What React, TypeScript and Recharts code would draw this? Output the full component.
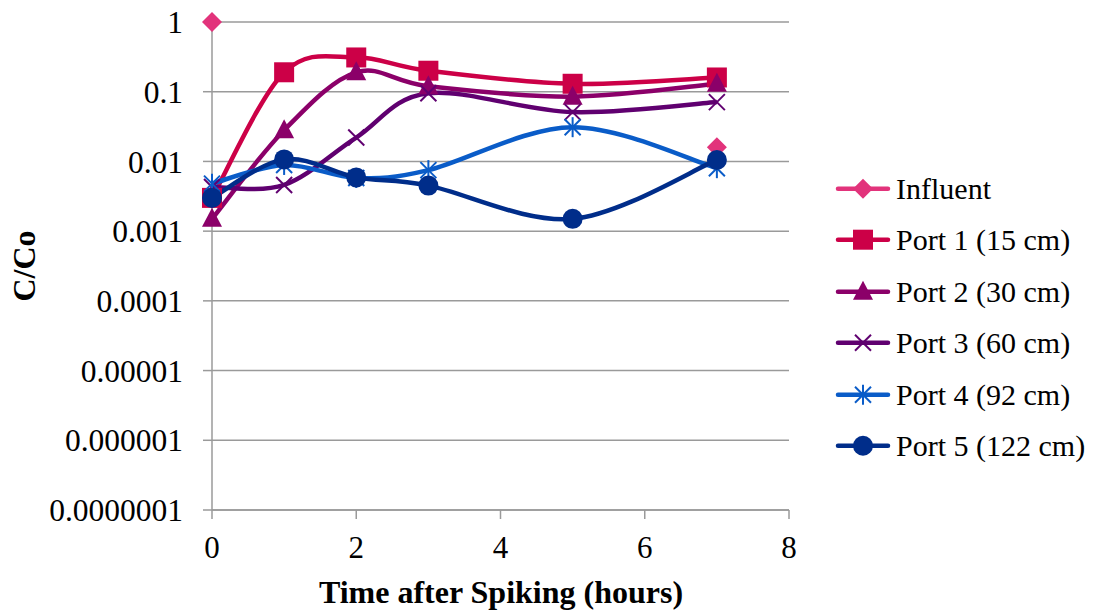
import { LineChart, Line, XAxis, YAxis, CartesianGrid } from "recharts";

const HOURS = [0, 1, 2, 3, 5, 7];
const INFLUENT = [1, null, null, null, null, 0.016];
const PORT1 = [0.003, 0.19, 0.31, 0.2, 0.13, 0.16];
const PORT2 = [0.0015, 0.028, 0.19, 0.12, 0.085, 0.13];
const PORT3 = [0.0043, 0.0046, 0.022, 0.095, 0.051, 0.071];
const PORT4 = [0.0048, 0.0089, 0.0058, 0.0075, 0.031, 0.008];
const PORT5 = [0.003, 0.0107, 0.0059, 0.0045, 0.0015, 0.0105];

const X_TICKS = [0, 2, 4, 6, 8];
const Y_TICKS = [1e-7, 1e-6, 1e-5, 1e-4, 1e-3, 1e-2, 1e-1, 1];

type Shape = "diamond" | "square" | "triangle" | "x" | "star" | "circle";

const SERIES: { key: string; name: string; color: string; shape: Shape; values: (number | null)[] }[] = [
  { key: "influent", name: "Influent", color: "#E2337B", shape: "diamond", values: INFLUENT },
  { key: "p1", name: "Port 1 (15 cm)", color: "#CC0047", shape: "square", values: PORT1 },
  { key: "p2", name: "Port 2 (30 cm)", color: "#8B0069", shape: "triangle", values: PORT2 },
  { key: "p3", name: "Port 3 (60 cm)", color: "#600070", shape: "x", values: PORT3 },
  { key: "p4", name: "Port 4 (92 cm)", color: "#0A5CC8", shape: "star", values: PORT4 },
  { key: "p5", name: "Port 5 (122 cm)", color: "#002D8A", shape: "circle", values: PORT5 },
];

const data = HOURS.map((h, i) => {
  const row: Record<string, number | null> = { hour: h };
  SERIES.forEach((s) => (row[s.key] = s.values[i]));
  return row;
});

const FONT = "'Liberation Serif', 'Times New Roman', serif";

// Excel-like smoothed line (Catmull-Rom through the points)
// eslint-disable-next-line @typescript-eslint/no-explicit-any
function excelCurve(context: any) {
  let pts: number[][] = [];
  return {
    areaStart() {},
    areaEnd() {},
    lineStart() {
      pts = [];
    },
    point(x: number, y: number) {
      pts.push([+x, +y]);
    },
    lineEnd() {
      const n = pts.length;
      if (!n) return;
      context.moveTo(pts[0][0], pts[0][1]);
      for (let i = 0; i < n - 1; i++) {
        const p0 = pts[Math.max(i - 1, 0)];
        const p1 = pts[i];
        const p2 = pts[i + 1];
        const p3 = pts[Math.min(i + 2, n - 1)];
        context.bezierCurveTo(
          p1[0] + (p2[0] - p0[0]) / 6,
          p1[1] + (p2[1] - p0[1]) / 6,
          p2[0] - (p3[0] - p1[0]) / 6,
          p2[1] - (p3[1] - p1[1]) / 6,
          p2[0],
          p2[1]
        );
      }
    },
  };
}

function Marker({ shape, color, cx, cy }: { shape: Shape; color: string; cx: number; cy: number }) {
  switch (shape) {
    case "diamond":
      return <polygon points={`${cx},${cy - 10} ${cx + 10},${cy} ${cx},${cy + 10} ${cx - 10},${cy}`} fill={color} />;
    case "square":
      return <rect x={cx - 10} y={cy - 10} width={20} height={20} fill={color} />;
    case "triangle":
      return <polygon points={`${cx},${cy - 11} ${cx + 10},${cy + 8} ${cx - 10},${cy + 8}`} fill={color} />;
    case "x":
      return (
        <g stroke={color} strokeWidth={2}>
          <line x1={cx - 8} y1={cy - 8} x2={cx + 8} y2={cy + 8} />
          <line x1={cx - 8} y1={cy + 8} x2={cx + 8} y2={cy - 8} />
        </g>
      );
    case "star":
      return (
        <g stroke={color} strokeWidth={2}>
          <line x1={cx - 8} y1={cy - 8} x2={cx + 8} y2={cy + 8} />
          <line x1={cx - 8} y1={cy + 8} x2={cx + 8} y2={cy - 8} />
          <line x1={cx} y1={cy - 10} x2={cx} y2={cy + 10} />
        </g>
      );
    default:
      return <circle cx={cx} cy={cy} r={10} fill={color} />;
  }
}

function YTitle() {
  return (
    <text
      transform="translate(24,266) rotate(-90)"
      textAnchor="middle"
      dominantBaseline="central"
      style={{ fontFamily: FONT, fontSize: 32, fontWeight: 700, fill: "#000" }}
    >
      C/Co
    </text>
  );
}

function XTitle() {
  return (
    <text
      x={501}
      y={603}
      textAnchor="middle"
      style={{ fontFamily: FONT, fontSize: 32, fontWeight: 700, fill: "#000" }}
    >
      Time after Spiking (hours)
    </text>
  );
}

function LegendBox() {
  return (
    <div style={{ position: "absolute", left: 835, top: 163 }}>
      {SERIES.map((s) => (
        <svg key={s.key} width={266} height={51.4} style={{ display: "block" }}>
          <line x1={3} y1={25.7} x2={53} y2={25.7} stroke={s.color} strokeWidth={4.5} strokeLinecap="round" />
          <Marker shape={s.shape} color={s.color} cx={28} cy={25.7} />
          <text x={61} y={25.7} dominantBaseline="central" style={{ fontFamily: FONT, fontSize: 30, fill: "#000" }}>
            {s.name}
          </text>
        </svg>
      ))}
    </div>
  );
}

const fmtY = (v: number) => (v >= 1 ? "1" : v.toFixed(Math.round(-Math.log10(v))));

export default function App() {
  return (
    <div style={{ position: "absolute", left: 0, top: 0, width: 1101, height: 612, background: "#fff" }}>
      <LineChart width={1101} height={612} data={data} margin={{ top: 22, right: 312, bottom: 0, left: 0 }}>
        <CartesianGrid vertical={false} stroke="#9a9a9a" strokeWidth={1.5} />
        <XAxis
          dataKey="hour"
          type="number"
          domain={[0, 8]}
          ticks={X_TICKS}
          height={102}
          tickSize={9}
          tickMargin={17}
          axisLine={{ stroke: "#9a9a9a", strokeWidth: 1.5 }}
          tickLine={{ stroke: "#9a9a9a", strokeWidth: 1.5 }}
          tick={{ fontFamily: FONT, fontSize: 31, fill: "#000" }}
          label={<XTitle />}
        />
        <YAxis
          type="number"
          scale="log"
          domain={[1e-7, 1]}
          ticks={Y_TICKS}
          width={212}
          tickSize={9}
          tickMargin={20}
          tickFormatter={fmtY}
          axisLine={{ stroke: "#9a9a9a", strokeWidth: 1.5 }}
          tickLine={{ stroke: "#9a9a9a", strokeWidth: 1.5 }}
          tick={{ fontFamily: FONT, fontSize: 31.5, fill: "#000" }}
          label={<YTitle />}
        />
        {SERIES.map((s) => (
          <Line
            key={s.key}
            dataKey={s.key}
            name={s.name}
            // eslint-disable-next-line @typescript-eslint/no-explicit-any
            type={excelCurve as any}
            stroke={s.color}
            strokeWidth={4.5}
            connectNulls={false}
            isAnimationActive={false}
            // eslint-disable-next-line @typescript-eslint/no-explicit-any
            dot={(p: any) =>
              p.value == null || p.cy == null ? (
                <g key={p.key ?? p.index} />
              ) : (
                <g key={p.key ?? p.index}>
                  <Marker shape={s.shape} color={s.color} cx={p.cx} cy={p.cy} />
                </g>
              )
            }
            activeDot={false}
          />
        ))}
      </LineChart>
      <LegendBox />
    </div>
  );
}
